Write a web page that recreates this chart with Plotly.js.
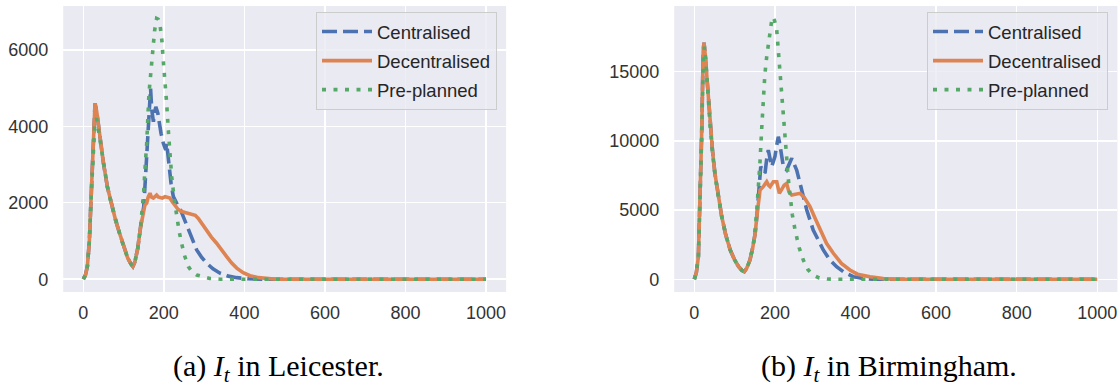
<!DOCTYPE html>
<html>
<head>
<meta charset="utf-8">
<script src="https://cdn.plot.ly/plotly-3.0.1.min.js"></script>
<style>html,body{margin:0;padding:0;background:#fff;}#chart{width:1120px;height:387px;}</style>
</head>
<body>
<div id="chart"></div>
<script>
// ---------- Leicester (a) ----------
const leicCentralDays = [0,5,10,15,20,25,29,33,40,50,60,70,80,90,100,110,118,123,128,135,142,150,153,157.4,161.5,165.6,167,170,174,177,180,185,188,193,198.7,204.6,207,211,217.8,223.5,230,236,242,248,257,270,281.6,294,306,322,339.5,360,381,410,440,1000];
const leicCentralVals = [0,100,330,1000,2300,3900,4600,4400,3800,3030,2400,1950,1550,1200,850,560,400,330,450,800,1350,1900,2420,3120,3990,4690,4990,4430,4120,4350,4510,4340,4080,3815,3555,3380,3555,3120,2510,2160,2000,1900,1800,1640,1375,1050,765,570,420,270,157,80,40,10,0,0];

const leicDecentralDays = [0,5,10,15,20,25,29,33,40,50,60,70,80,90,100,110,118,123,128,135,142,149,153,157.4,161,165.6,169,174,178,182,186,190.5,196,203,209,215,220,226,235,244,256,269,278,285.6,295,306,318,331,343,356,368,381,397,414,435,455,480,1000];
const leicDecentralVals = [0,100,330,1000,2300,3900,4600,4400,3800,3030,2400,1950,1550,1200,850,560,400,330,450,800,1350,1810,1940,1990,2150,2250,2150,2120,2180,2200,2150,2140,2120,2160,2150,2120,2040,1940,1830,1770,1740,1710,1670,1590,1450,1250,1100,940,760,590,430,290,170,90,40,20,0,0];

const leicPreplannedDays = [0,5,10,15,20,25,29,33,40,50,60,70,80,90,100,110,118,123,128,135,142,145,150,153,157.4,163,168,172,177,182,186,190.5,195,198.7,203,207,211,215,219.5,226,232,238,244,252,261,270,281.6,300,314,340,1000];
const leicPreplannedVals = [0,100,330,1000,2300,3600,4150,4200,3750,3000,2400,1950,1550,1200,850,560,400,330,450,800,1350,1640,2300,2860,3555,4860,5515,5990,6500,6820,6800,6650,6250,5690,5210,4600,3900,3200,2680,2070,1640,1250,940,600,330,190,110,50,20,0,0];

// ---------- Birmingham (b) ----------
const birmCentralDays = [0,5,10,14,18,22,24,27,31,35,39,45,51,60,68,78,89,100,110,118,124,130,138,145,151,155,159,163,164.8,170,175.4,180,183.6,188,192,196,200,204,208.4,212,216,221,229,235,241.7,248,254,260,266.5,279,295,307,320,335,353,372,394.5,403,420,445,1000];
const birmCentralVals = [0,500,1630,5730,10300,16500,17100,16200,14640,12800,11200,9300,7660,5900,4520,3200,2120,1400,910,650,550,800,1390,2300,3320,4500,5730,7410,8140,7900,7660,8800,9340,8700,8140,8500,8860,9600,10300,9800,8900,8140,7900,8300,8740,8300,7900,7200,6450,5010,3560,2800,2120,1450,910,500,190,150,60,0,0];

const birmDecentralDays = [0,5,10,14,18,22,24,27,31,35,39,45,51,60,68,78,89,100,110,118,124,130,138,145,151,155,159,163,171,179.6,184,188,196,204.5,211,217,223,229,235,241.7,250,262,272,287,300,312,328,345,365,386,405,436,469,500,1000];
const birmDecentralVals = [0,500,1630,5730,10300,16500,17100,16200,14640,12800,11200,9300,7660,5900,4520,3200,2120,1400,910,650,550,800,1390,2300,3320,4500,5730,6450,6690,7050,6800,6690,7050,7050,6210,6570,6800,6930,6300,6090,6150,6210,5950,5250,4400,3560,2600,1880,1150,670,370,190,50,0,0];

const birmPreplannedDays = [0,5,10,14,18,22,25,28,31,35,39,45,51,60,68,78,89,100,110,118,124,130,138,145,150,155,159,163,167,171,175,179.6,184,188,192,195,199,204.5,208,212.7,217,221,225,229,233,237.5,243,250,260,270.5,282,295,310,330,360,1000];
const birmPreplannedVals = [0,500,1630,5600,10000,15800,16800,16000,14500,12700,11100,9200,7600,5900,4520,3200,2120,1400,910,650,550,800,1390,2300,3320,5000,6500,8500,10800,13190,14800,16080,17200,18000,18700,18950,18700,18000,16800,15120,13500,11990,10400,8860,7300,5970,4700,3560,2300,1390,700,310,100,20,0,0];

// ---------- labels ----------
const seriesNames = ['Centralised','Decentralised','Pre-planned'];
const xTicks = [0,200,400,600,800,1000];
const leicYTicks = [0,2000,4000,6000];
const birmYTicks = [0,5000,10000,15000];
const captions = ['(a) <i>I</i><sub><i>t</i></sub> in Leicester.', '(b) <i>I</i><sub><i>t</i></sub> in Birmingham.'];

const colors = ['#4C72B0','#DD8452','#55A868'];
const dashes = ['15px,6px','solid','4px,7.5px'];
const LW = 3.6;

function mk(x, y, i, xa, ya, leg) {
  return {
    x: x, y: y, type: 'scatter', mode: 'lines', name: seriesNames[i],
    xaxis: xa, yaxis: ya, legend: leg, legendgroup: leg + i,
    line: {color: colors[i], width: LW, dash: dashes[i]},
    hoverinfo: 'skip'
  };
}

const traces = [
  mk(leicCentralDays, leicCentralVals, 0, 'x', 'y', 'legend'),
  mk(leicDecentralDays, leicDecentralVals, 1, 'x', 'y', 'legend'),
  mk(leicPreplannedDays, leicPreplannedVals, 2, 'x', 'y', 'legend'),
  mk(birmCentralDays, birmCentralVals, 0, 'x2', 'y2', 'legend2'),
  mk(birmDecentralDays, birmDecentralVals, 1, 'x2', 'y2', 'legend2'),
  mk(birmPreplannedDays, birmPreplannedVals, 2, 'x2', 'y2', 'legend2')
];

const tickFont = {family: '"Liberation Sans", Arial, sans-serif', size: 18, color: '#333333'};
const W = 1120, H = 387, MT = 6, MB = 95;
const plotH = H - MT - MB;

function xAxis(domain, anchor) {
  return {
    domain: domain, anchor: anchor, range: [-50, 1050],
    tickvals: xTicks, ticktext: xTicks.map(String),
    showgrid: true, gridcolor: '#ffffff', gridwidth: 1.5,
    zeroline: false, showline: false, ticks: '',
    tickfont: tickFont, ticklabelstandoff: 8, fixedrange: true
  };
}
function yAxis(range, ticks, anchor) {
  return {
    range: range, anchor: anchor, tickvals: ticks, ticktext: ticks.map(String),
    showgrid: true, gridcolor: '#ffffff', gridwidth: 1.5,
    zeroline: false, showline: false, ticks: '',
    tickfont: tickFont, ticklabelstandoff: 14, fixedrange: true
  };
}
function legend(xRightPx, yTopPx) {
  return {
    x: xRightPx / W, xanchor: 'right', xref: 'paper',
    y: 1 - (yTopPx - MT) / plotH, yanchor: 'top', yref: 'paper',
    bgcolor: 'rgba(234,234,242,0.8)', bordercolor: '#cccccc', borderwidth: 1,
    font: {family: '"Liberation Sans", Arial, sans-serif', size: 18.5, color: '#262626'},
    traceorder: 'grouped', tracegroupgap: 2, itemwidth: 50
  };
}

const captionY = 1 - (368 - MT) / plotH;

const layout = {
  width: W, height: H,
  margin: {l: 0, r: 0, t: MT, b: MB, pad: 0},
  paper_bgcolor: '#ffffff', plot_bgcolor: '#EAEAF2',
  showlegend: true,
  xaxis: xAxis([63.2 / W, 506.1 / W], 'y'),
  yaxis: yAxis([-335, 7145], leicYTicks, 'x'),
  xaxis2: xAxis([674.2 / W, 1117.4 / W], 'y2'),
  yaxis2: yAxis([-917, 19746], birmYTicks, 'x2'),
  legend: legend(497, 12),
  legend2: legend(1108, 12),
  annotations: [
    {text: captions[0], xref: 'paper', yref: 'paper', x: 278 / W, y: captionY, xanchor: 'center', yanchor: 'middle', showarrow: false,
     font: {family: '"Liberation Serif", "Times New Roman", serif', size: 30, color: '#000000'}},
    {text: captions[1], xref: 'paper', yref: 'paper', x: 889 / W, y: captionY, xanchor: 'center', yanchor: 'middle', showarrow: false,
     font: {family: '"Liberation Serif", "Times New Roman", serif', size: 30, color: '#000000'}}
  ]
};

Plotly.newPlot('chart', traces, layout, {staticPlot: true, displayModeBar: false});
</script>
</body>
</html>
